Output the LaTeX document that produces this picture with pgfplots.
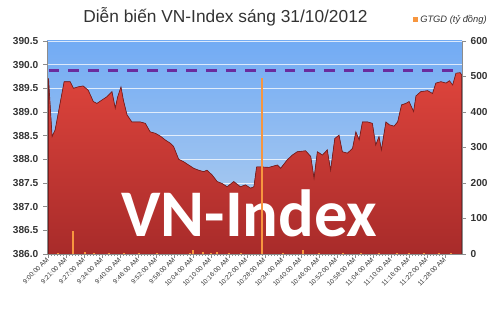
\documentclass[border=0pt]{standalone}
\usepackage{pgfplots}
\pgfplotsset{compat=1.18}
\usepackage{fontspec}
\setmainfont{Liberation Sans}
\newfontfamily\wmfont{Carlito}
\definecolor{bgtop}{HTML}{72ABF4}
\definecolor{bgbot}{HTML}{B8D2EE}
\definecolor{areatop}{HTML}{DE443C}
\definecolor{areabot}{HTML}{A82B2A}
\definecolor{areaedge}{HTML}{7A1E1E}
\definecolor{volc}{HTML}{F7963F}
\definecolor{refc}{HTML}{6A2C9E}
\definecolor{axc}{HTML}{8C8C8C}
\definecolor{txt}{HTML}{333333}
\begin{document}
\begin{tikzpicture}
\useasboundingbox (0,0) rectangle (375pt,234.75pt);
\begin{axis}[
  at={(35.25pt,44.25pt)}, anchor=south west,
  scale only axis, width=311.25pt, height=159.75pt,
  xmin=-0.5, xmax=137.5, ymin=386, ymax=390.5,
  axis x line*=bottom, axis y line*=left,
  axis line style={axc, line width=0.6pt},
  tick style={axc, line width=0.5pt},
  tick align=outside,
  major tick length=3pt, minor tick length=1.6pt,
  xtick={0,6,...,132}, minor x tick num=5,
  xticklabels={9:00:00 AM,9:21:00 AM,9:27:00 AM,9:34:00 AM,9:40:00 AM,9:46:00 AM,9:52:00 AM,9:58:00 AM,10:04:00 AM,10:10:00 AM,10:16:00 AM,10:22:00 AM,10:28:00 AM,10:34:00 AM,10:40:00 AM,10:46:00 AM,10:52:00 AM,10:58:00 AM,11:04:00 AM,11:10:00 AM,11:16:00 AM,11:22:00 AM,11:28:00 AM},
  xticklabel style={rotate=45, anchor=east, font=\fontsize{4.9}{5.5}\selectfont, text=txt, inner sep=0.8pt},
  ytick={386,386.5,...,390.5},
  yticklabel style={/pgf/number format/.cd, fixed, fixed zerofill, precision=1, /tikz/.cd, font=\bfseries\fontsize{7.6}{9}\selectfont, text=txt},
  /pgf/number format/assume math mode=true,
  ymajorgrids, grid style={white, opacity=0.75, line width=0.5pt},
  axis background/.style={top color=bgtop, bottom color=bgbot},
  clip=true,
]
\addplot[fill, top color=areatop, bottom color=areabot, draw=areaedge, line width=0.5pt] coordinates {
(0,386)(0,389.71)(1.2,388.48)(2.2,388.62)(5.2,389.64)(7.2,389.64)(8.3,389.50)(9.8,389.53)(11.5,389.55)(13.2,389.46)(14.9,389.22)(16.1,389.18)(17.7,389.25)(19.4,389.32)(21.1,389.43)(22.2,389.08)(23,389.32)(24.1,389.53)(24.9,389.25)(26.1,388.94)(27.7,388.79)(30.5,388.79)(32.2,388.76)(33.8,388.58)(35.5,388.55)(37.2,388.49)(38.8,388.41)(40.5,388.34)(41.6,388.27)(43.3,388.00)(44.9,387.95)(46.6,387.88)(48.3,387.81)(49.9,387.77)(51.6,387.74)(52.7,387.77)(54.4,387.67)(56.1,387.53)(57.7,387.49)(59.4,387.42)(61.6,387.53)(63.8,387.42)(65.5,387.46)(67.2,387.39)(68.3,387.42)(69.2,387.84)(70.5,387.84)(73.3,387.83)(76.1,387.88)(77.2,387.81)(79.4,387.99)(81.1,388.09)(82.7,388.16)(85.5,388.18)(87.2,388.06)(88.3,387.60)(89.4,388.16)(91.1,388.09)(92.7,388.20)(93.8,387.77)(95.2,388.44)(96.6,388.51)(97.7,388.16)(99.4,388.13)(101.1,388.23)(102.2,388.58)(103.3,388.41)(104.4,388.79)(106.1,388.79)(107.7,388.76)(108.8,388.30)(109.9,388.48)(110.7,388.20)(112.2,388.79)(113.3,388.73)(114.9,388.70)(116.1,388.79)(117.4,389.15)(118.8,389.18)(119.9,389.22)(121.4,389.01)(122.2,389.34)(123.8,389.43)(126.1,389.45)(127.7,389.39)(128.8,389.61)(130.5,389.64)(132.2,389.61)(133.3,389.66)(134.4,389.57)(135.5,389.82)(136.9,389.83)(137.4,389.78)(137.4,386)
};
\addplot[refc, line width=2pt, dash pattern=on 8pt off 6.75pt] coordinates {(0,389.88)(137,389.88)};
\node[text=white, font=\wmfont\bfseries\fontsize{50}{50}\selectfont, anchor=base, inner sep=0pt] at (axis cs:66.8,386.36) {VN-Index};
\end{axis}
\begin{axis}[
  at={(35.25pt,44.25pt)}, anchor=south west,
  scale only axis, width=311.25pt, height=159.75pt,
  xmin=-0.5, xmax=137.5, ymin=0, ymax=600,
  axis x line=none, axis y line*=right,
  axis line style={axc, line width=0.6pt},
  tick style={axc, line width=0.5pt},
  tick align=outside, major tick length=3pt,
  ytick={0,100,...,600},
  yticklabel style={font=\bfseries\fontsize{7.6}{9}\selectfont, text=txt},
  /pgf/number format/assume math mode=true,
]
\addplot[ycomb, volc, line width=1.5pt] coordinates {
(3,2)(8,65)(12,5)(15,2)(20,3)(25,2)(30,2)(36,3)(47,4)(48,11)(51.5,5)(54,4)(56,7)(60,2)(64,2)(71,495)(78,2)(84.5,11)(90,3)(98,4)(104,2)(110,3)(116,2)(120,4)(125,3)(130,4)(134,3)
};
\end{axis}
\node[font=\fontsize{13}{15}\selectfont, text=txt] at (169.1pt,222pt) {Diễn biến VN-Index sáng 31/10/2012};
\fill[volc] (309.7pt,217.9pt) rectangle (313.5pt,221.7pt);
\node[anchor=west, font=\itshape\fontsize{7}{8}\selectfont, text=txt, inner sep=0pt] at (315pt,219.75pt) {GTGD (tỷ đồng)};
\end{tikzpicture}
\end{document}
